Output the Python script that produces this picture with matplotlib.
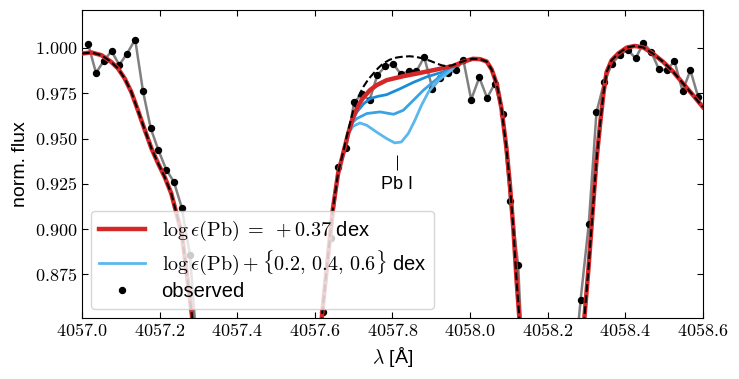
import numpy as np
import matplotlib
matplotlib.use("Agg")
import matplotlib.pyplot as plt
from matplotlib.ticker import FuncFormatter, MultipleLocator

plt.rcParams['font.family'] = ['Liberation Sans', 'DejaVu Sans']
plt.rcParams['mathtext.fontset'] = 'cm'

# observed spectrum (points below 0.85 are off the plot)
wl_obs = [4057.016, 4057.036, 4057.056, 4057.076, 4057.096, 4057.116, 4057.137,
          4057.157, 4057.177, 4057.197, 4057.217, 4057.237, 4057.257, 4057.278,
          4057.298, 4057.600, 4057.620, 4057.641, 4057.661, 4057.681, 4057.701,
          4057.721, 4057.741, 4057.761, 4057.782, 4057.802, 4057.822, 4057.842,
          4057.862, 4057.882, 4057.903, 4057.923, 4057.943, 4057.963, 4057.983,
          4058.003, 4058.024, 4058.044, 4058.064, 4058.084, 4058.104, 4058.124,
          4058.144, 4058.265, 4058.285, 4058.306, 4058.326, 4058.346, 4058.366,
          4058.386, 4058.406, 4058.427, 4058.447, 4058.467, 4058.487, 4058.507,
          4058.527, 4058.548, 4058.568, 4058.588]
flux_obs = [1.0020, 0.9862, 0.9928, 0.9983, 0.9906, 0.9969, 1.0046,
            0.9763, 0.9557, 0.9435, 0.9329, 0.9260, 0.9119, 0.8860,
            0.8300, 0.8000, 0.8543, 0.8950, 0.9343, 0.9448, 0.9699,
            0.9744, 0.9711, 0.9849, 0.9899, 0.9912, 0.9855, 0.9871,
            0.9871, 0.9950, 0.9776, 0.9833, 0.9859, 0.9877, 0.9932,
            0.9715, 0.9837, 0.9724, 0.9803, 0.9638, 0.9154, 0.8805,
            0.7900, 0.8150, 0.8608, 0.9027, 0.9645, 0.9812, 0.9914,
            0.9960, 0.9991, 0.9942, 1.0028, 0.9978, 0.9882, 0.9877,
            0.9927, 0.9761, 0.9877, 0.9730]

# best fit synthesis, log eps(Pb) = +0.37
wl_fit = [4057.000, 4057.024, 4057.050, 4057.075, 4057.093, 4057.110, 4057.127,
          4057.144, 4057.162, 4057.179, 4057.196, 4057.213, 4057.230, 4057.239,
          4057.257, 4057.283, 4057.300,
          4057.600, 4057.619, 4057.646, 4057.660, 4057.673, 4057.686, 4057.699,
          4057.712, 4057.725, 4057.742, 4057.759, 4057.785, 4057.828, 4057.871,
          4057.914, 4057.957, 4057.982, 4058.007, 4058.026, 4058.043, 4058.056,
          4058.069, 4058.081, 4058.094, 4058.103, 4058.112, 4058.120, 4058.127,
          4058.140,
          4058.280, 4058.295, 4058.305, 4058.317, 4058.326, 4058.335, 4058.344,
          4058.352, 4058.365, 4058.382, 4058.404, 4058.425, 4058.447, 4058.471,
          4058.498, 4058.524, 4058.549, 4058.575, 4058.600]
flux_fit = [0.9969, 0.9975, 0.9960, 0.9923, 0.9886, 0.9831, 0.9757,
            0.9656, 0.9546, 0.9445, 0.9363, 0.9288, 0.9197, 0.9123,
            0.8977, 0.8530, 0.8100,
            0.8100, 0.8534, 0.9104, 0.9307, 0.9417, 0.9528, 0.9619,
            0.9684, 0.9726, 0.9767, 0.9794, 0.9822, 0.9844, 0.9862,
            0.9881, 0.9901, 0.9923, 0.9940, 0.9938, 0.9925, 0.9880,
            0.9800, 0.9667, 0.9446, 0.9242, 0.8994, 0.8718, 0.8515,
            0.8000,
            0.8000, 0.8515, 0.8773, 0.9123, 0.9380, 0.9573, 0.9750,
            0.9866, 0.9932, 0.9969, 1.0002, 1.0011, 1.0002, 0.9969,
            0.9923, 0.9868, 0.9804, 0.9739, 0.9674]

# synthesis without the Pb line
wl_nopb = [4057.000, 4057.024, 4057.050, 4057.075, 4057.093, 4057.110, 4057.127,
           4057.144, 4057.162, 4057.179, 4057.196, 4057.213, 4057.230, 4057.239,
           4057.257, 4057.283, 4057.300,
           4057.600, 4057.619, 4057.646, 4057.660, 4057.673, 4057.686, 4057.699,
           4057.712, 4057.725, 4057.738, 4057.751, 4057.763, 4057.776, 4057.793,
           4057.811, 4057.828, 4057.845, 4057.862, 4057.880, 4057.897, 4057.914,
           4057.927, 4057.940, 4057.953, 4057.966, 4057.991, 4058.007, 4058.026,
           4058.043, 4058.056, 4058.069, 4058.081, 4058.094, 4058.103, 4058.112,
           4058.120, 4058.127, 4058.140,
           4058.280, 4058.295, 4058.305, 4058.317, 4058.326, 4058.335, 4058.344,
           4058.352, 4058.365, 4058.382, 4058.404, 4058.425, 4058.447, 4058.471,
           4058.498, 4058.524, 4058.549, 4058.575, 4058.600]
flux_nopb = [0.9969, 0.9975, 0.9960, 0.9923, 0.9886, 0.9831, 0.9757,
             0.9656, 0.9546, 0.9445, 0.9363, 0.9288, 0.9197, 0.9123,
             0.8977, 0.8530, 0.8100,
             0.8100, 0.8534, 0.9104, 0.9310, 0.9425, 0.9545, 0.9656,
             0.9730, 0.9785, 0.9827, 0.9859, 0.9888, 0.9914, 0.9935,
             0.9947, 0.9952, 0.9954, 0.9950, 0.9941, 0.9929, 0.9914,
             0.9904, 0.9899, 0.9903, 0.9914, 0.9932, 0.9940, 0.9938,
             0.9925, 0.9880, 0.9800, 0.9667, 0.9446, 0.9242, 0.8994,
             0.8718, 0.8515, 0.8000,
             0.8000, 0.8515, 0.8773, 0.9123, 0.9380, 0.9573, 0.9750,
             0.9866, 0.9932, 0.9969, 1.0002, 1.0011, 1.0002, 0.9969,
             0.9923, 0.9868, 0.9804, 0.9739, 0.9674]

# enhanced Pb: +0.2, +0.4, +0.6 dex
wl_p02 = [4057.673, 4057.686, 4057.699, 4057.708, 4057.725, 4057.742, 4057.763,
          4057.785, 4057.819, 4057.854, 4057.888, 4057.922, 4057.948, 4057.960]
flux_p02 = [0.9417, 0.9525, 0.9605, 0.9645, 0.9690, 0.9720, 0.9733,
            0.9742, 0.9774, 0.9810, 0.9840, 0.9862, 0.9881, 0.9900]
wl_p04 = [4057.673, 4057.682, 4057.691, 4057.708, 4057.734, 4057.768, 4057.803,
          4057.828, 4057.854, 4057.880, 4057.905, 4057.931, 4057.948, 4057.960]
flux_p04 = [0.9417, 0.9505, 0.9575, 0.9610, 0.9638, 0.9647, 0.9634,
            0.9656, 0.9711, 0.9767, 0.9812, 0.9859, 0.9877, 0.9900]
wl_p06 = [4057.673, 4057.686, 4057.699, 4057.716, 4057.734, 4057.759, 4057.785,
          4057.806, 4057.823, 4057.841, 4057.858, 4057.875, 4057.893, 4057.914,
          4057.935, 4057.952, 4057.962]
flux_p06 = [0.9417, 0.9528, 0.9568, 0.9586, 0.9573, 0.9536, 0.9500,
            0.9476, 0.9481, 0.9528, 0.9601, 0.9684, 0.9757, 0.9812,
            0.9849, 0.9877, 0.9902]

pb_wl = 4057.812

fig = plt.figure(figsize=(7.39, 3.79), dpi=100)
ax = fig.add_axes([0.111, 0.161, 0.840, 0.813])

ax.plot(wl_obs, flux_obs, color='gray', lw=1.8, zorder=1)
ax.plot(wl_obs, flux_obs, 'o', color='black', ms=4.3, zorder=2,
        label='observed')

blues = ['#1a8cd8', '#3aa3e3', '#5bb8ec']
ax.plot(wl_p02, flux_p02, color=blues[0], lw=2, zorder=3)
ax.plot(wl_p04, flux_p04, color=blues[1], lw=2, zorder=3)
ax.plot(wl_p06, flux_p06, color=blues[2], lw=2, zorder=3,
        label=r'$\log\epsilon(\mathrm{Pb}) + \{0.2,\,0.4,\,0.6\}$ dex')
ax.plot(wl_fit, flux_fit, color='#d62728', lw=3.2, zorder=4,
        label=r'$\log\epsilon(\mathrm{Pb})\;=\;+0.37$ dex')
ax.plot(wl_nopb, flux_nopb, '--', color='black', lw=1.5, zorder=5)

ax.vlines(pb_wl, 0.9325, 0.9407, color='black', lw=0.7)
ax.text(pb_wl, 0.9248, 'Pb I', ha='center', va='center', fontsize=13)

ax.set_xlim(4057.0, 4058.6)
ax.set_ylim(0.851, 1.021)
ax.xaxis.set_major_locator(MultipleLocator(0.2))
ax.yaxis.set_major_locator(MultipleLocator(0.025))
ax.xaxis.set_major_formatter(FuncFormatter(lambda v, p: r'$%.1f$' % v))
ax.yaxis.set_major_formatter(FuncFormatter(lambda v, p: r'$%.3f$' % v))
ax.tick_params(direction='in', top=True, right=True, labelsize=13, length=4.5)

ax.set_xlabel(r'$\lambda$ [Å]', fontsize=14)
ax.set_ylabel('norm. flux', fontsize=14)

h, l = ax.get_legend_handles_labels()
order = [2, 1, 0]
ax.legend([h[i] for i in order], [l[i] for i in order], loc='lower left',
          fontsize=14.5, handlelength=2.3, labelspacing=0.25,
          borderaxespad=0.45)

fig.savefig('out.png', dpi=100)
